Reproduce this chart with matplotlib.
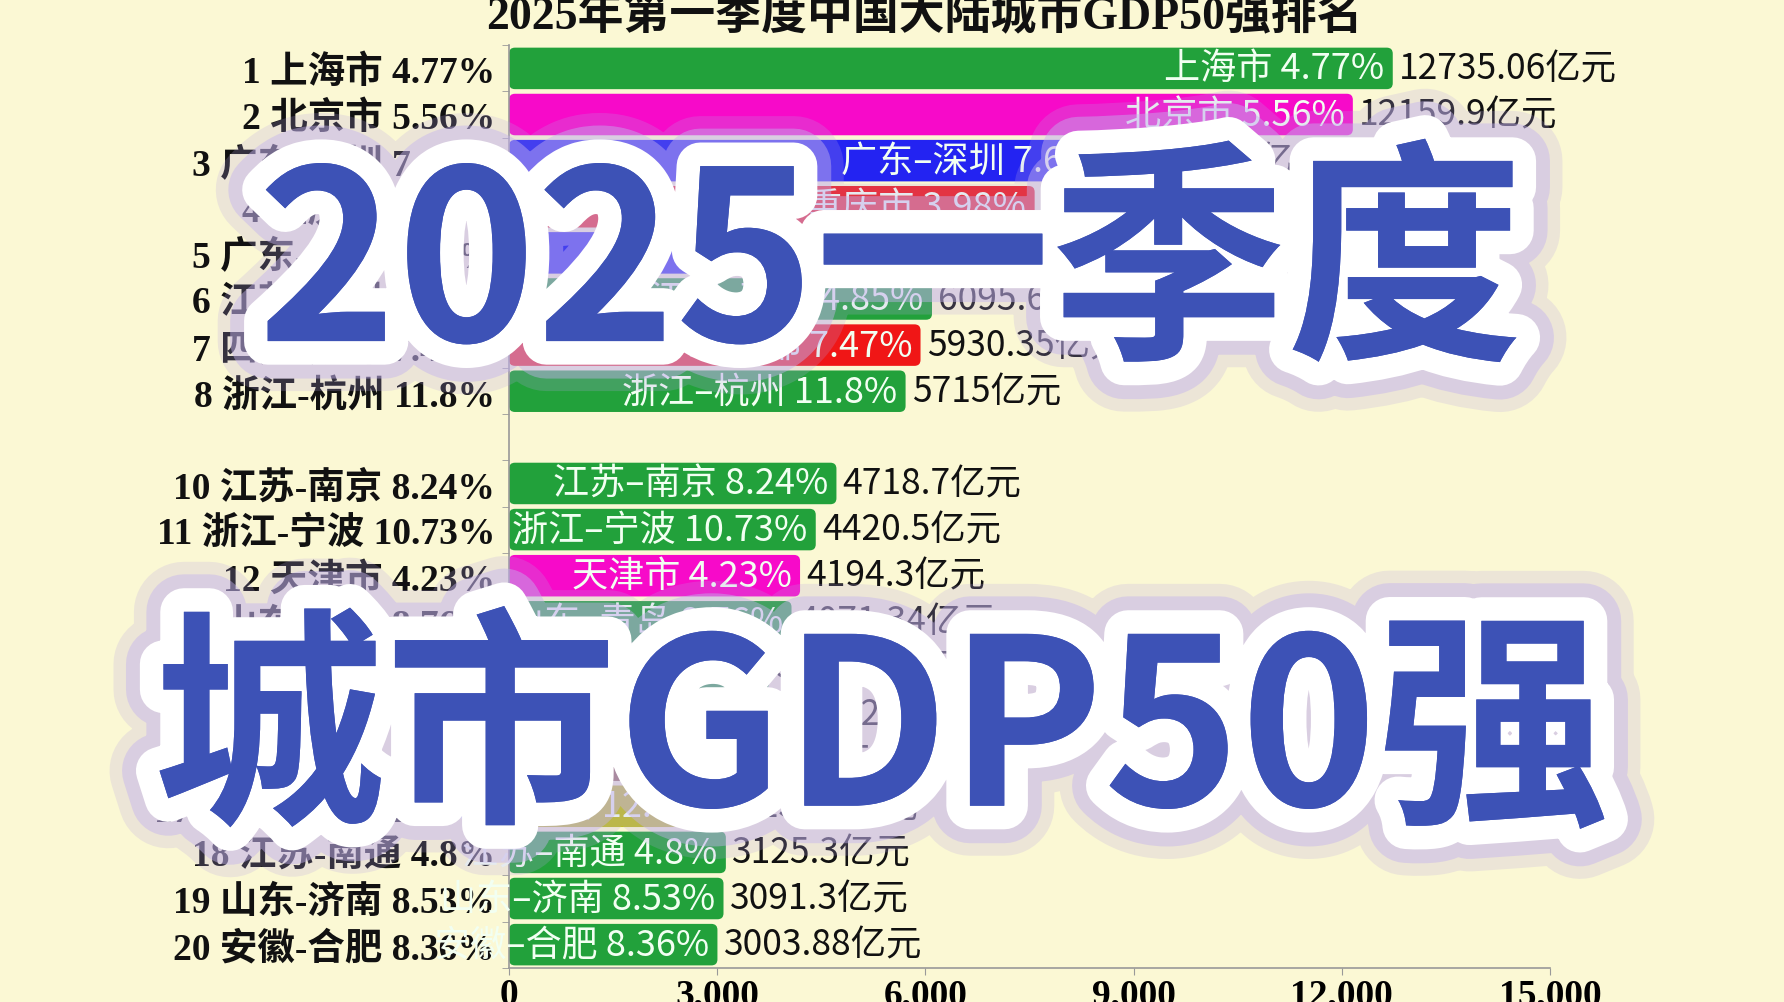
import matplotlib
matplotlib.use("Agg")
import matplotlib.pyplot as plt
import matplotlib.patheffects as pe
from matplotlib.patches import FancyBboxPatch

# ranks shown in the frame (rank 9 is in transition / empty)
ranks = [1, 2, 3, 4, 5, 6, 7, 8, 10, 11, 12, 13, 14, 15, 16, 17, 18, 19, 20]
cities = ["上海市", "北京市", "广东-深圳", "重庆市", "广东-广州", "江苏-苏州", "四川-成都",
          "浙江-杭州", "江苏-南京", "浙江-宁波", "天津市", "山东-青岛", "江苏-无锡",
          "湖南-长沙", "河南-郑州", "陕西-西安", "江苏-南通", "山东-济南", "安徽-合肥"]
growth = ["4.77", "5.56", "7.64", "3.98", "3.62", "4.85", "7.47", "11.8", "8.24", "10.73",
          "4.23", "8.76", "5.52", "5.31", "6.12", "12.13", "4.8", "8.53", "8.36"]
gdp = [12735.06, 12159.9, 8870.49, 7574.59, 7532.51, 6095.68, 5930.35, 5715, 4718.7,
       4420.5, 4194.3, 4071.34, 3750.1, 3714.24, 3588.5, 3236.7, 3125.3, 3091.3, 3003.88]

title = "2025年第一季度中国大陆城市GDP50强排名"
overlay1 = "2025一季度"
overlay2 = "城市GDP50强"

region_colors = {
    "上海": "#22a13b", "北京": "#f70ac9", "天津": "#f70ac9", "广东": "#2323f2",
    "重庆": "#f01616", "四川": "#f01616", "江苏": "#22a13b", "浙江": "#22a13b",
    "山东": "#22a13b", "安徽": "#22a13b", "湖南": "#e8731c", "河南": "#8a5a3c",
    "陕西": "#bdbd1f",
}

bg = "#fbf8d4"
serif = ["Liberation Serif", "Noto Sans CJK SC"]
sans = ["Noto Sans CJK SC", "DejaVu Sans"]

colors = [region_colors[c[:2]] for c in cities]

fig = plt.figure(figsize=(17.84, 10.03), dpi=100, facecolor=bg)
ax = fig.add_axes([0.2853, 0.0342, 0.5835, 0.9196])
ax.set_facecolor(bg)

bars = ax.barh(ranks, gdp, height=0.9, color=colors, edgecolor="none")
ax.set_xlim(0, 15000)
ax.set_ylim(20.5, 0.5)

# swap plain rectangles for rounded ones (same geometry)
x_per_px = 15000 / (0.5835 * 1784)
y_per_px = 20 / (0.9196 * 1003)
for b in bars:
    b.set_visible(False)
    ax.add_patch(FancyBboxPatch((b.get_x(), b.get_y()), b.get_width(), b.get_height(),
                                boxstyle=f"round,pad=0,rounding_size={6 * x_per_px}",
                                mutation_aspect=y_per_px / x_per_px,
                                facecolor=b.get_facecolor(), edgecolor="none"))

for r, c, g, v in zip(ranks, cities, growth, gdp):
    ax.text(v - 120, r, f"{c.replace('-', '–')} {g}%", ha="right", va="center",
            fontsize=26, color="#f2fff2", family=sans)
    ax.text(v + 90, r, f"{('%f' % v).rstrip('0').rstrip('.')}亿元", ha="left",
            va="center", fontsize=25.5, color="#111111", family=sans)

ax.set_yticks(ranks, [f"{r} {c} {g}%" for r, c, g in zip(ranks, cities, growth)])
ax.set_yticks([x + 0.5 for x in range(0, 21)], minor=True)
ax.tick_params(axis="y", which="major", length=0, pad=10)
ax.tick_params(axis="y", which="minor", length=5, color="#999999")
for lab in ax.get_yticklabels():
    lab.set_fontfamily(serif)
    lab.set_fontweight("bold")
    lab.set_fontsize(27)
    lab.set_color("#111111")

ax.set_xticks(range(0, 15001, 3000))
ax.set_xticklabels([f"{x:,}" for x in range(0, 15001, 3000)])
ax.tick_params(axis="x", length=5, color="#999999", pad=2)
for lab in ax.get_xticklabels():
    lab.set_fontfamily(serif)
    lab.set_fontweight("bold")
    lab.set_fontsize(27)

for s in ["top", "right"]:
    ax.spines[s].set_visible(False)
for s in ["left", "bottom"]:
    ax.spines[s].set_color("#999999")
    ax.spines[s].set_linewidth(1.2)

fig.text(0.518, 0.983, title, ha="center", va="center", fontsize=33,
         fontweight="bold", family=serif, color="#111111")

glow = [pe.withStroke(linewidth=72, foreground="#b7a3e6", alpha=0.22),
        pe.withStroke(linewidth=54, foreground="#c4b2ee", alpha=0.45),
        pe.withStroke(linewidth=34, foreground="white"),
        pe.Normal()]
fig.text(0.499, 0.728, overlay1, ha="center", va="center", fontsize=170,
         fontweight="bold", family=sans, color="#3d52b6", path_effects=glow)
fig.text(0.494, 0.263, overlay2, ha="center", va="center", fontsize=167,
         fontweight="bold", family=sans, color="#3d52b6", path_effects=glow)

fig.savefig("out.png", dpi=100, facecolor=bg)
